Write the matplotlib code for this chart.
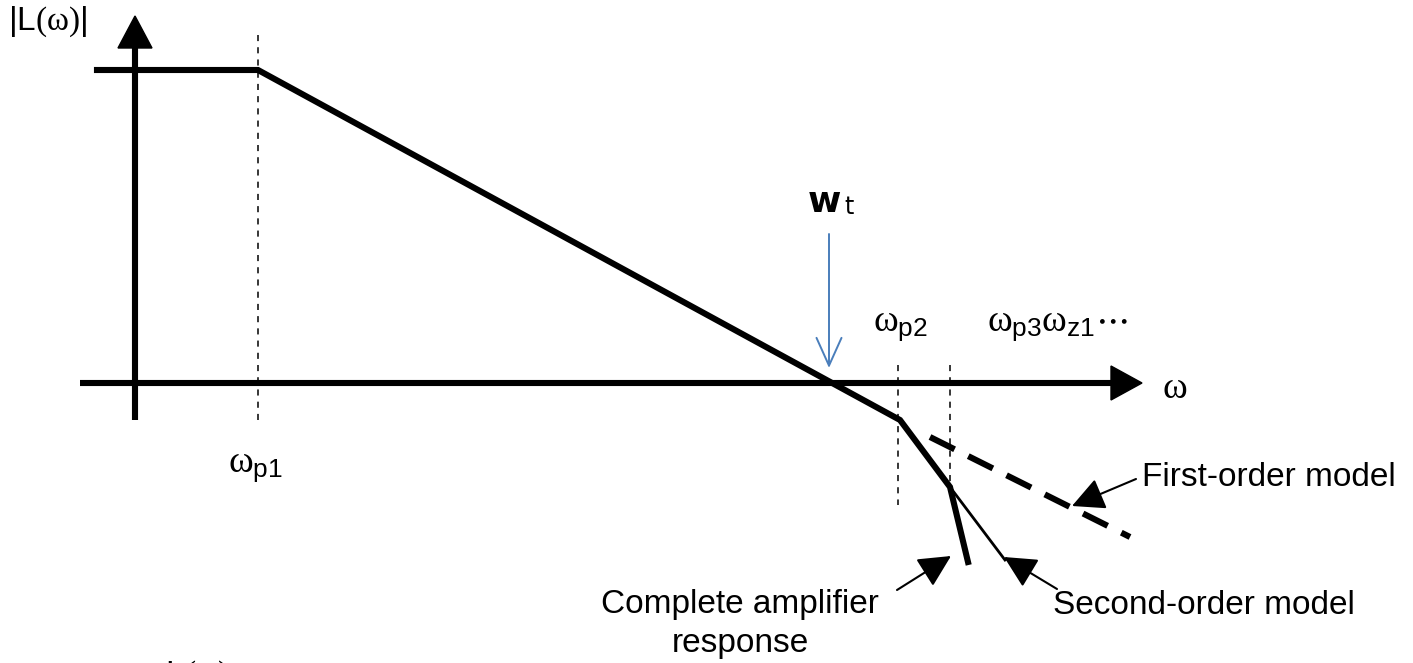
import matplotlib
matplotlib.use("Agg")
import matplotlib.pyplot as plt
from matplotlib.patches import FancyArrowPatch

plt.rcParams['mathtext.fontset'] = 'custom'
plt.rcParams['mathtext.it'] = 'Liberation Serif'
plt.rcParams['mathtext.rm'] = 'Liberation Serif'
plt.rcParams['mathtext.sf'] = 'Liberation Sans'

# break points of the asymptotic |L(w)| curve (diagram units, y grows downward)
flat_x = [97, 258]
flat_y = [70, 70]
slope_x = [258, 900]
slope_y = [70, 420]
second_x = [900, 950]
second_y = [420, 487]
complete_x = [950, 968]
complete_y = [487, 562]
second_tail_x = [950, 1005]
second_tail_y = [487, 560]
first_x = [930, 1130]
first_y = [437, 537]

pole_x = [258, 898, 950]
pole_top = [35, 365, 365]
pole_bot = [420, 505, 490]

axis_y = 383
axis_x = 135

fig = plt.figure(figsize=(14.13, 6.63), dpi=100)
ax = fig.add_axes([0, 0, 1, 1])
ax.set_xlim(0, 1413)
ax.set_ylim(663, 0)
ax.axis('off')

lw = 4.4

# axes with arrows
ax.plot([axis_x, axis_x], [420, 45], color='k', lw=lw, solid_capstyle='butt')
ax.fill([118, 152, 135], [48, 48, 16], color='k')
ax.plot([80, 1115], [axis_y, axis_y], color='k', lw=lw, solid_capstyle='butt')
ax.fill([1111, 1111, 1142], [366, 400, 383], color='k')

# pole markers
for x, t, b in zip(pole_x, pole_top, pole_bot):
    ax.plot([x, x], [t, b], color='k', lw=1.1, ls=(0, (4, 4)))

# response curves
ax.plot(flat_x + slope_x[1:] + second_x[1:] + complete_x[1:],
        flat_y + slope_y[1:] + second_y[1:] + complete_y[1:],
        color='k', lw=lw, solid_joinstyle='miter')
ax.plot(second_tail_x, second_tail_y, color='k', lw=2.0)
ax.plot(first_x, first_y, color='k', lw=lw, ls=(0, (4.5, 2.5)), dash_capstyle='butt')


def arrow(x0, y0, x1, y1, style='-|>', color='k', lw=1.5, hw=9, hl=16):
    ax.add_patch(FancyArrowPatch((x0, y0), (x1, y1),
                                 arrowstyle=f'{style},head_width={hw/10:.2f},head_length={hl/10:.2f}',
                                 mutation_scale=10, color=color, lw=lw,
                                 shrinkA=0, shrinkB=0))


arrow(829, 234, 829, 368, style='->', color='#4a7ebb', lw=1.4, hw=9, hl=20)
arrow(1136, 479, 1072, 506, hw=10, hl=20)
arrow(897, 590, 951, 556, hw=10, hl=20)
arrow(1057, 589, 1004, 557, hw=10, hl=20)

sans = ['Liberation Sans', 'DejaVu Sans']
ax.text(8, 22, r'|L$(\omega)$|', fontsize=24, family=sans, va='center', ha='left')
ax.text(228, 466, r'$\omega_{\mathsf{p1}}$', fontsize=27, va='center', ha='left')
ax.text(873, 325, r'$\omega_{\mathsf{p2}}$', fontsize=27, va='center', ha='left')
ax.text(987, 325, r'$\omega_{\mathsf{p3}}\omega_{\mathsf{z1}}\cdots$', fontsize=27,
        va='center', ha='left')
ax.text(1162, 388, r'$\omega$', fontsize=27, va='center', ha='left')
ax.text(808, 202, 'w', fontsize=26, family='DejaVu Sans', weight='bold',
        va='center', ha='left')
ax.text(844, 207, 't', fontsize=17, family='DejaVu Sans', va='center', ha='left')

ax.text(1142, 477, 'First-order model', fontsize=24, family=sans, va='center', ha='left')
ax.text(1053, 605, 'Second-order model', fontsize=24, family=sans, va='center', ha='left')
ax.text(740, 624, 'Complete amplifier\nresponse', fontsize=24, family=sans,
        va='center', ha='center', linespacing=1.3)
ax.text(148, 676, r'∠L$(\omega)$', fontsize=24, family=sans, va='center', ha='left')

fig.savefig('out.png', dpi=100)
